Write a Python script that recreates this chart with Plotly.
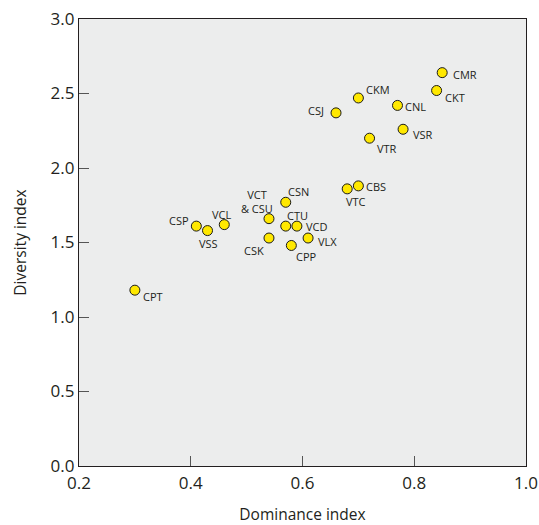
import plotly.graph_objects as go

# Site codes with their dominance and diversity indices
sites = ["CMR", "CKT", "CKM", "CNL", "CSJ", "VSR", "VTR", "CBS", "VTC", "CSN",
         "VCT<br>& CSU", "CTU", "VCD", "VLX", "CPP", "CSK", "CSP", "VSS", "VCL", "CPT"]
dominance = [0.85, 0.84, 0.70, 0.77, 0.66, 0.78, 0.72, 0.70, 0.68, 0.57,
             0.54, 0.57, 0.59, 0.61, 0.58, 0.54, 0.41, 0.43, 0.46, 0.30]
diversity = [2.64, 2.52, 2.47, 2.42, 2.37, 2.26, 2.20, 1.88, 1.86, 1.77,
             1.66, 1.61, 1.61, 1.53, 1.48, 1.53, 1.61, 1.58, 1.62, 1.18]

x_ticks = [0.2, 0.4, 0.6, 0.8, 1.0]
y_ticks = [0.0, 0.5, 1.0, 1.5, 2.0, 2.5, 3.0]

# Label placement around each marker: (x shift px, y shift px, horizontal anchor)
label_place = {
    "CMR": (9, -2, "left"), "CKT": (6, -7, "left"), "CKM": (6, 8, "left"),
    "CNL": (6, -1, "left"), "CSJ": (-10, 2, "right"), "VSR": (8, -5, "left"),
    "VTR": (5, -10, "left"), "CBS": (6, -1, "left"), "VTC": (9, -13, "center"),
    "CSN": (0, 11, "left"), "VCT<br>& CSU": (-12, 17, "center"), "CTU": (-1, 11, "left"),
    "VCD": (7, 0, "left"), "VLX": (8, -3, "left"), "CPP": (3, -11, "left"),
    "CSK": (-3, -12, "right"), "CSP": (-5, 6, "right"), "VSS": (1, -13, "center"),
    "VCL": (-3, 10, "center"), "CPT": (6, -6, "left"),
}

fig = go.Figure()
fig.add_trace(go.Scatter(
    x=dominance, y=diversity, mode="markers",
    marker=dict(size=10, color="#FFE800", line=dict(color="#1a1a1a", width=1)),
    hoverinfo="skip", showlegend=False,
))

for name, xv, yv in zip(sites, dominance, diversity):
    dx, dy, anchor = label_place[name]
    fig.add_annotation(
        x=xv, y=yv, xref="x", yref="y", text=name, showarrow=False,
        xshift=dx, yshift=dy, xanchor=anchor, yanchor="middle",
        font=dict(family="Open Sans", size=11, color="#231F20"),
    )

axis_common = dict(
    showgrid=False, zeroline=False, showline=True, mirror=True, automargin=False,
    linecolor="#231F20", linewidth=1.3, ticks="inside", ticklen=10,
    tickcolor="#555555", tickwidth=1,
    tickfont=dict(family="Open Sans", size=17, color="#231F20"),
)

title_font = dict(family="Open Sans", size=15.5, color="#231F20")

fig.update_layout(
    width=539, height=525,
    margin=dict(l=79, r=13, t=19, b=59),
    paper_bgcolor="white", plot_bgcolor="#ECEDED",
    xaxis=dict(range=[0.2, 1.0], tickvals=x_ticks, ticktext=[f"{v:.1f}" for v in x_ticks],
               ticklabelstandoff=1,
               title=dict(text="Dominance index", standoff=18, font=title_font),
               **axis_common),
    yaxis=dict(range=[0.0, 3.0], tickvals=y_ticks, ticktext=[f"{v:.1f}" for v in y_ticks],
               title=dict(text="Diversity index", standoff=20, font=title_font),
               **axis_common),
)

fig.write_html("out.html")
